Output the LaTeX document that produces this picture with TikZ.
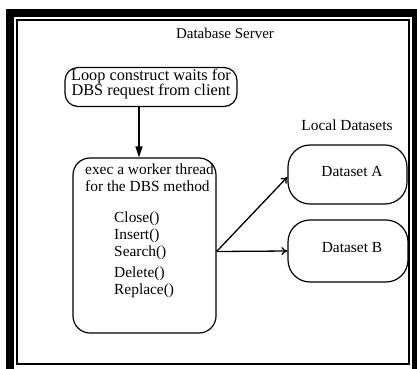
\documentclass[tikz,border=0pt]{standalone}
\usepackage{fontspec}
\setmainfont{Liberation Serif}
\usetikzlibrary{arrows.meta}
\begin{document}
\begin{tikzpicture}[x=1pt,y=-1pt,
  txt/.style={font=\fontsize{15.4}{17}\selectfont, inner sep=0pt, anchor=base},
  ltxt/.style={txt, anchor=base west},
  shapebox/.style={draw, line width=1.2pt, inner sep=0pt},
  arr/.style={line width=1.3pt, -{To[length=6pt,width=8pt]}},
  varr/.style={line width=1.6pt, -{Triangle[length=11pt,width=7pt]}}]
\useasboundingbox (0,0) rectangle (417,368);
\clip (0,0) rectangle (417,368);
% frame
\fill (6,9) rectangle (14,376);
\fill (6,9) rectangle (420,17);
\fill (412,9) rectangle (420,376);
\draw[line width=1.5pt] (17,20) rectangle (409,364);
% title
\node[txt, font=\fontsize{15}{17}\selectfont] (title) at (225,38) {Database Server};
% loop box
\node[shapebox, minimum width=172pt, minimum height=39pt, rounded corners=13pt] (loop) at (151,87) {};
\node[txt, font=\fontsize{16.3}{18}\selectfont] (loop1) at (151,80.5) {Loop construct waits for};
\node[txt, font=\fontsize{16.3}{18}\selectfont] (loop2) at (151,95.5) {DBS request from client};
% worker box
\node[shapebox, minimum width=143pt, minimum height=175pt, rounded corners=17pt] (worker) at (144.5,245.5) {};
\node[ltxt] (w1) at (85,174) {exec a worker thread};
\node[ltxt] (w2) at (85,191) {for the DBS method};
\node[ltxt] (m1) at (114,222) {Close()};
\node[ltxt] (m2) at (114,239) {Insert()};
\node[ltxt] (m3) at (114,256.5) {Search()};
\node[ltxt] (m4) at (114,277) {Delete()};
\node[ltxt] (m5) at (114,294) {Replace()};
% datasets
\node[txt] (local) at (347,130) {Local Datasets};
\node[shapebox, minimum width=119pt, minimum height=59pt, rounded corners=22pt] (dsA) at (347.5,174.5) {};
\node[txt] (dsAt) at (352,176.5) {Dataset A};
\node[shapebox, minimum width=120pt, minimum height=62pt, rounded corners=22pt] (dsB) at (348,251) {};
\node[txt] (dsBt) at (352,252) {Dataset B};
% connectors
\draw[varr] ([xshift=-12pt]loop.south) -- ([xshift=-5.5pt]worker.north);
\draw[arr] ([yshift=-6pt]worker.east) -- ([yshift=-2.5pt]dsA.west);
\draw[arr] ([yshift=-6pt]worker.east) -- (dsB.west);
\end{tikzpicture}
\end{document}
